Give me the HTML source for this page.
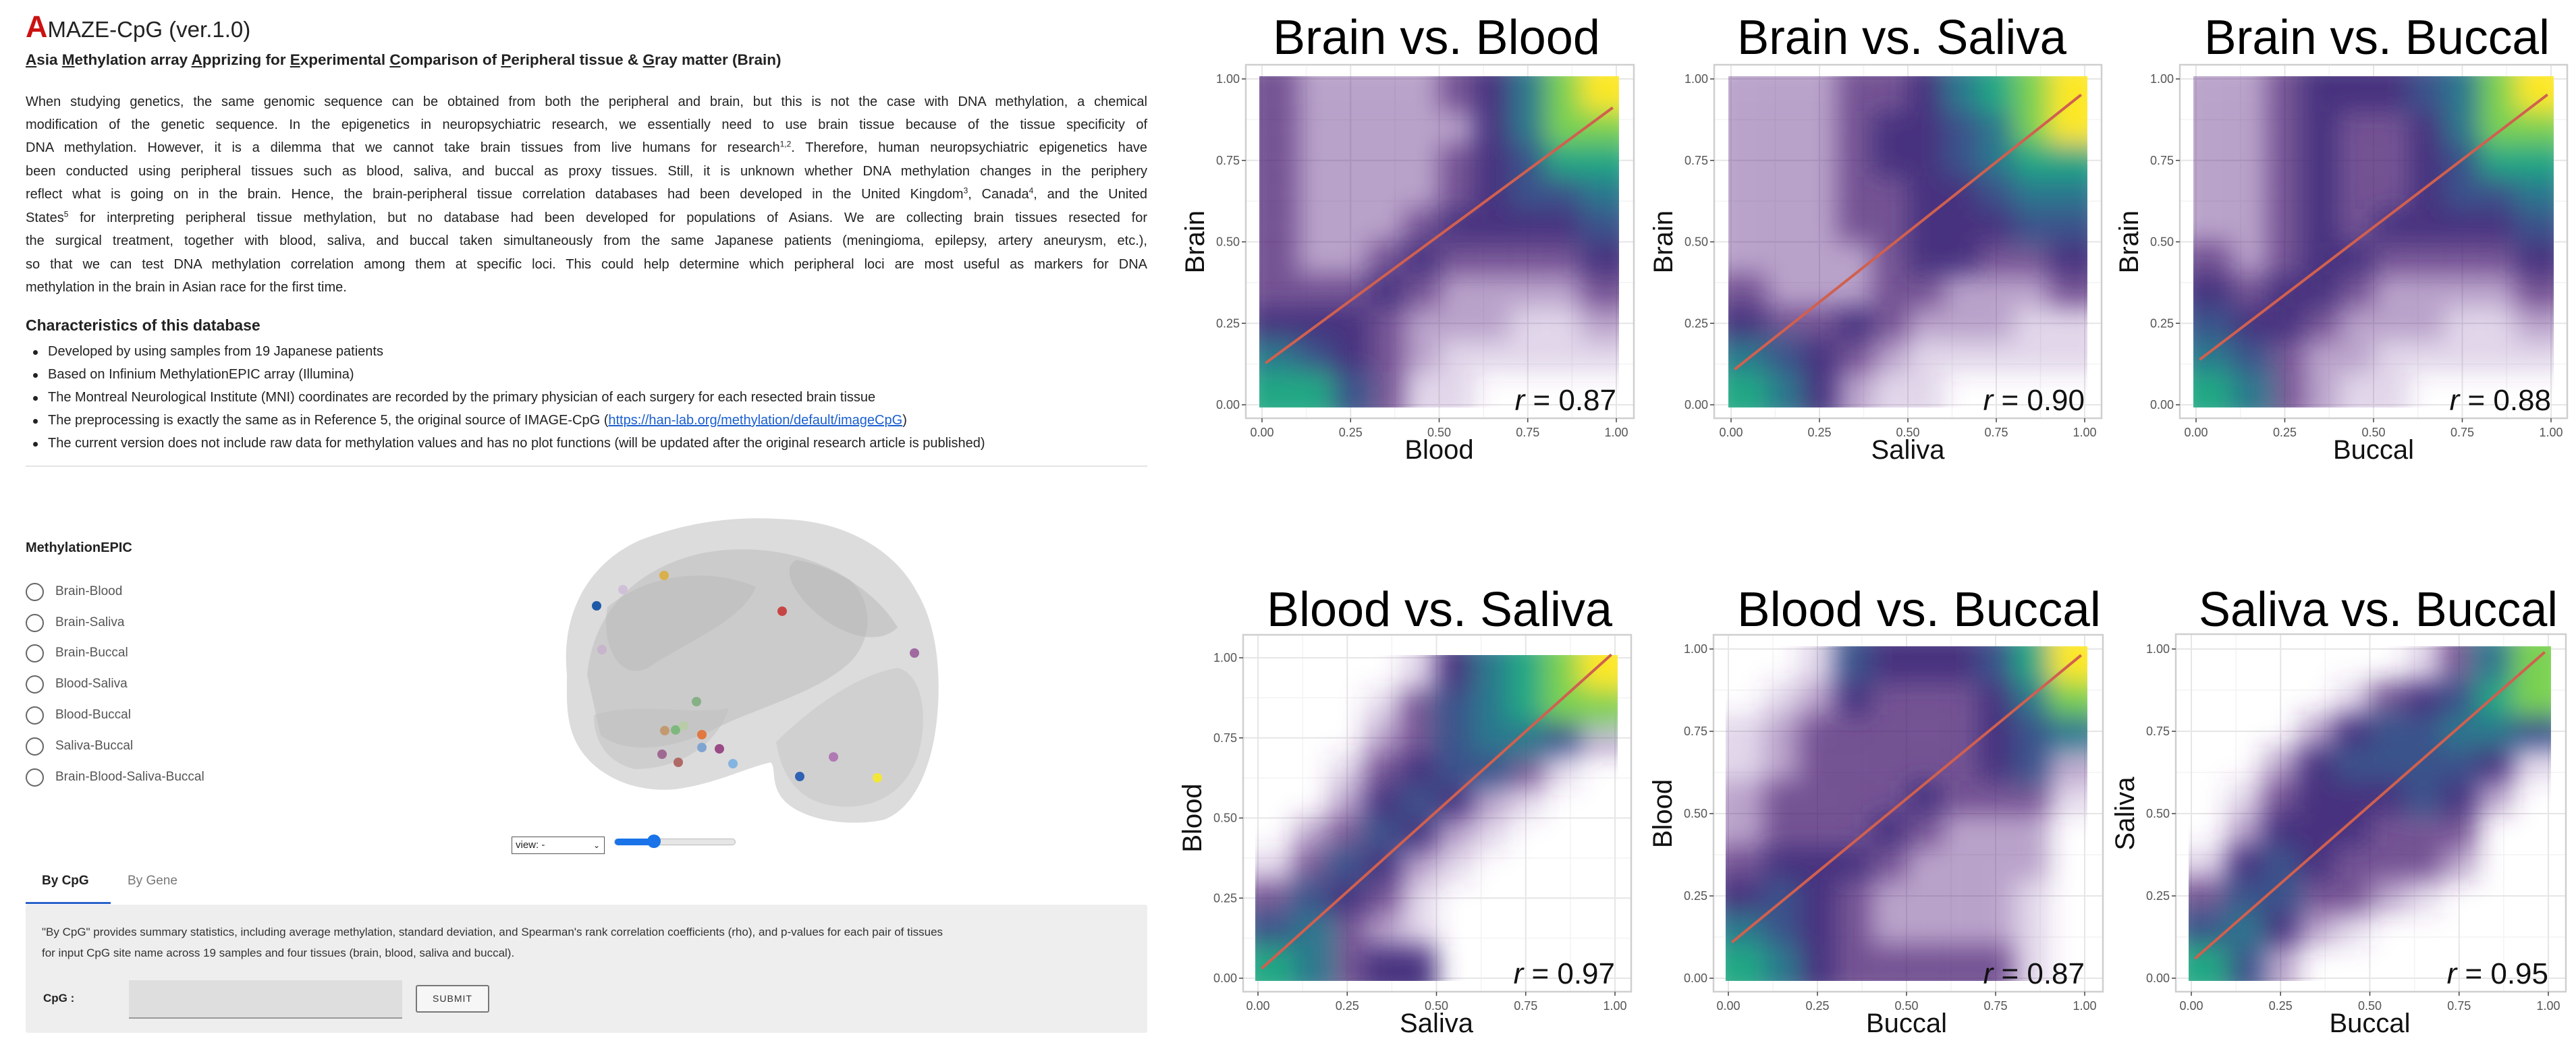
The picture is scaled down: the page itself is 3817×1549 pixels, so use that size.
<!DOCTYPE html>
<html><head><meta charset="utf-8"><title>AMAZE-CpG</title>
<style>
html,body{margin:0;padding:0;background:#fff;}
body{width:3817px;height:1549px;position:relative;overflow:hidden;font-family:"Liberation Sans",sans-serif;color:#222;}
.abs{position:absolute;}
.pline{position:absolute;left:38px;width:1662px;font-size:20px;text-align:justify;text-align-last:justify;white-space:nowrap;}
sup{font-size:12px;line-height:0;}
.bul{position:absolute;left:71px;font-size:20px;white-space:nowrap;}
.bul::before{content:"";position:absolute;left:-22px;top:9px;width:7px;height:7px;border-radius:50%;background:#222;}
.radio{position:absolute;left:38px;width:27px;height:27px;border:2px solid #666;border-radius:50%;box-sizing:border-box;}
.rlab{position:absolute;left:82px;font-size:19px;color:#555;}
</style></head>
<body>
<div class="abs" style="left:38px;top:14px;font-size:33px;white-space:nowrap;"><span style="color:#cc1111;font-size:45px;font-weight:bold;">A</span>MAZE-CpG (ver.1.0)</div>
<div class="abs" style="left:38px;top:76px;font-size:22.5px;font-weight:bold;white-space:nowrap;"><u>A</u>sia <u>M</u>ethylation array <u>A</u>pprizing for <u>E</u>xperimental <u>C</u>omparison of <u>P</u>eripheral tissue &amp; <u>G</u>ray matter (Brain)</div>

<div>
<div class="pline" style="top:140px">When studying genetics, the same genomic sequence can be obtained from both the peripheral and brain, but this is not the case with DNA methylation, a chemical</div>
<div class="pline" style="top:174px">modification of the genetic sequence. In the epigenetics in neuropsychiatric research, we essentially need to use brain tissue because of the tissue specificity of</div>
<div class="pline" style="top:208px">DNA methylation. However, it is a dilemma that we cannot take brain tissues from live humans for research<sup>1,2</sup>. Therefore, human neuropsychiatric epigenetics have</div>
<div class="pline" style="top:243px">been conducted using peripheral tissues such as blood, saliva, and buccal as proxy tissues. Still, it is unknown whether DNA methylation changes in the periphery</div>
<div class="pline" style="top:277px">reflect what is going on in the brain. Hence, the brain-peripheral tissue correlation databases had been developed in the United Kingdom<sup>3</sup>, Canada<sup>4</sup>, and the United</div>
<div class="pline" style="top:312px">States<sup>5</sup> for interpreting peripheral tissue methylation, but no database had been developed for populations of Asians. We are collecting brain tissues resected for</div>
<div class="pline" style="top:346px">the surgical treatment, together with blood, saliva, and buccal taken simultaneously from the same Japanese patients (meningioma, epilepsy, artery aneurysm, etc.),</div>
<div class="pline" style="top:381px">so that we can test DNA methylation correlation among them at specific loci. This could help determine which peripheral loci are most useful as markers for DNA</div>
<div class="pline" style="top:415px;text-align-last:left;">methylation in the brain in Asian race for the first time.</div>
</div>

<div class="abs" style="left:38px;top:469px;font-size:23px;font-weight:bold;">Characteristics of this database</div>
<div>
<div class="bul" style="top:510px">Developed by using samples from 19 Japanese patients</div>
<div class="bul" style="top:544px">Based on Infinium MethylationEPIC array (Illumina)</div>
<div class="bul" style="top:578px">The Montreal Neurological Institute (MNI) coordinates are recorded by the primary physician of each surgery for each resected brain tissue</div>
<div class="bul" style="top:612px">The preprocessing is exactly the same as in Reference 5, the original source of IMAGE-CpG (<a style="color:#1a5fd0;text-decoration:underline;">https://han-lab.org/methylation/default/imageCpG</a>)</div>
<div class="bul" style="top:646px">The current version does not include raw data for methylation values and has no plot functions (will be updated after the original research article is published)</div>
</div>
<div class="abs" style="left:38px;top:690px;width:1662px;height:2px;background:#e4e4e4;"></div>

<div class="abs" style="left:38px;top:801px;font-size:20px;font-weight:bold;">MethylationEPIC</div>
<div>
<div class="radio" style="top:864px"></div><div class="rlab" style="top:866px">Brain-Blood</div>
<div class="radio" style="top:910px"></div><div class="rlab" style="top:912px">Brain-Saliva</div>
<div class="radio" style="top:955px"></div><div class="rlab" style="top:957px">Brain-Buccal</div>
<div class="radio" style="top:1001px"></div><div class="rlab" style="top:1003px">Blood-Saliva</div>
<div class="radio" style="top:1047px"></div><div class="rlab" style="top:1049px">Blood-Buccal</div>
<div class="radio" style="top:1093px"></div><div class="rlab" style="top:1095px">Saliva-Buccal</div>
<div class="radio" style="top:1139px"></div><div class="rlab" style="top:1141px">Brain-Blood-Saliva-Buccal</div>
</div>

<svg class="abs" style="left:0;top:0" width="1700" height="1549" viewBox="0 0 1700 1549">
<g>
<path d="M840,1000 C830,900 880,830 950,800 C1030,770 1100,765 1170,770 C1260,775 1330,820 1360,880 C1395,940 1395,1030 1385,1090 C1375,1150 1350,1200 1310,1215 C1250,1228 1180,1212 1158,1182 C1142,1160 1150,1138 1142,1130 C1100,1140 1060,1162 1000,1170 C930,1176 870,1142 850,1092 C838,1062 840,1030 840,1000 Z" fill="#dcdcdc"/>
<path d="M870,1000 C880,900 950,840 1040,820 C1120,805 1200,820 1260,860 C1300,900 1290,960 1250,990 C1200,1030 1120,1050 1060,1080 C1000,1110 930,1120 890,1090 Z" fill="#bdbdbd" opacity="0.55"/>
<path d="M1150,1100 C1200,1050 1270,1000 1330,990 C1370,1000 1375,1070 1360,1120 C1340,1180 1290,1200 1240,1195 C1190,1190 1160,1160 1150,1100 Z" fill="#c4c4c4" opacity="0.5"/>
<path d="M900,900 C960,850 1050,840 1120,870 C1100,920 1020,950 960,990 C920,1010 890,960 900,900 Z" fill="#b8b8b8" opacity="0.45"/>
<path d="M1180,830 C1240,840 1300,880 1330,930 C1300,960 1240,940 1200,900 C1170,870 1160,840 1180,830 Z" fill="#b5b5b5" opacity="0.5"/>
<path d="M880,1060 C940,1040 1020,1060 1080,1050 C1060,1110 1000,1140 940,1140 C900,1130 880,1100 880,1060 Z" fill="#c0c0c0" opacity="0.5"/>
</g>
<g>
<circle cx="984" cy="853" r="7" fill="#d9b04c"/><circle cx="923" cy="874" r="7" fill="#cfc0d8"/>
<circle cx="884" cy="898" r="7" fill="#1f5aa8"/><circle cx="1159" cy="906" r="7" fill="#c84545"/>
<circle cx="892" cy="963" r="7" fill="#c8b4cc"/><circle cx="1355" cy="968" r="7" fill="#a06aa0"/>
<circle cx="1032" cy="1040" r="7" fill="#86b086"/><circle cx="985" cy="1083" r="7" fill="#c39a70"/>
<circle cx="1001" cy="1082" r="7" fill="#7fb87f"/><circle cx="1013" cy="1076" r="7" fill="#b8cca8"/>
<circle cx="1040" cy="1089" r="7" fill="#e07840"/><circle cx="1040" cy="1108" r="7" fill="#80a4d0"/>
<circle cx="1066" cy="1110" r="7" fill="#9a4a86"/><circle cx="981" cy="1118" r="7" fill="#9e6a92"/>
<circle cx="1005" cy="1130" r="7" fill="#b06a66"/><circle cx="1086" cy="1132" r="7" fill="#84b4e0"/>
<circle cx="1235" cy="1122" r="7" fill="#b07ab4"/><circle cx="1185" cy="1151" r="7" fill="#2f62b4"/>
<circle cx="1300" cy="1153" r="7" fill="#f2e63a"/>
</g>
</svg>

<div class="abs" style="left:758px;top:1240px;width:138px;height:26px;border:1px solid #555;box-sizing:border-box;font-size:15px;line-height:24px;padding-left:5px;background:#fff;">view: -<span style="position:absolute;right:6px;top:0;font-size:12px;">&#8964;</span></div>
<div class="abs" style="left:910px;top:1243px;width:180px;height:10px;border-radius:5px;background:#e6e6e6;border:1px solid #bbb;box-sizing:border-box;">
<div style="position:absolute;left:0;top:-1px;width:58px;height:10px;border-radius:5px;background:#1a73e8;"></div>
<div style="position:absolute;left:48px;top:-7px;width:20px;height:20px;border-radius:50%;background:#1a73e8;"></div>
</div>

<div class="abs" style="left:62px;top:1295px;font-size:19px;font-weight:bold;color:#222;">By CpG</div>
<div class="abs" style="left:189px;top:1295px;font-size:19px;color:#777;">By Gene</div>
<div class="abs" style="left:38px;top:1337px;width:126px;height:3px;background:#2a62c9;"></div>
<div class="abs" style="left:38px;top:1341px;width:1662px;height:190px;background:#eeeeee;border-radius:3px;"></div>
<div class="abs" style="left:62px;top:1366px;font-size:17px;line-height:31px;color:#333;width:1620px;">"By CpG" provides summary statistics, including average methylation, standard deviation, and Spearman's rank correlation coefficients (rho), and p-values for each pair of tissues<br>for input CpG site name across 19 samples and four tissues (brain, blood, saliva and buccal).</div>
<div class="abs" style="left:64px;top:1470px;font-size:17px;font-weight:bold;">CpG :</div>
<div class="abs" style="left:191px;top:1453px;width:405px;height:57px;background:#dedede;border-bottom:2px solid #999;box-sizing:border-box;"></div>
<div class="abs" style="left:616px;top:1460px;width:109px;height:41px;border:2px solid #777;border-radius:3px;box-sizing:border-box;background:#f6f6f6;font-size:14px;letter-spacing:1px;text-align:center;line-height:37px;color:#333;">SUBMIT</div>

<svg id="charts" class="abs" style="left:0;top:0" width="3817" height="1549" viewBox="0 0 3817 1549"></svg>

<script>
const titles = ["Brain vs. Blood","Brain vs. Saliva","Brain vs. Buccal","Blood vs. Saliva","Blood vs. Buccal","Saliva vs. Buccal"];
const xLabels = ["Blood","Saliva","Buccal","Saliva","Buccal","Buccal"];
const yLabels = ["Brain","Brain","Brain","Blood","Blood","Saliva"];
const rValues = [0.87,0.90,0.88,0.97,0.87,0.95];
const intercepts = [0.12,0.10,0.13,0.02,0.10,0.05];
const slopes = [0.80,0.86,0.83,1.00,0.89,0.95];
const tickValues = [0,0.25,0.5,0.75,1];
const tickLabels = ["0.00","0.25","0.50","0.75","1.00"];
// density levels, rows from y=1 (top) to y=0, columns x=0..1
const density1 = [
[3,2,2,2,2,3,4,6,8,9],[3,2,2,2,2,2,4,6,8,8],[3,2,2,2,2,3,4,5,7,7],[3,2,2,2,2,3,4,5,5,6],[3,2,2,2,3,4,4,4,4,5],
[3,2,2,3,4,3,3,3,3,4],[3,3,3,4,3,2,2,2,2,3],[4,4,4,3,2,2,2,1,1,2],[6,5,4,3,2,1,1,1,1,1],[7,7,5,3,1,1,0,0,0,0]];
const density2 = [
[2,2,2,3,3,4,6,7,8,9],[2,2,2,3,4,4,5,6,8,9],[2,2,2,3,4,4,5,6,7,7],[2,2,2,3,3,4,4,5,6,6],[2,2,2,3,3,4,4,4,5,5],
[2,2,2,2,3,4,4,3,3,4],[3,2,2,2,3,3,2,2,2,3],[4,3,3,4,3,2,2,2,1,1],[6,5,4,3,2,1,1,1,1,1],[7,6,4,2,1,1,0,0,0,0]];
const density3 = [
[2,2,3,4,4,4,5,6,8,9],[2,2,3,4,3,3,4,6,8,8],[2,2,3,4,3,3,4,5,7,7],[2,2,3,4,3,3,4,5,5,6],[2,2,3,4,3,4,4,4,4,5],
[3,2,3,4,4,3,3,3,3,4],[4,3,4,4,3,2,2,2,2,3],[5,4,4,3,2,2,2,1,1,2],[6,5,3,2,2,1,1,1,1,1],[7,6,3,2,1,1,0,0,0,0]];
const density4 = [
[0,0,0,0,1,4,6,7,8,9],[0,0,0,1,3,5,6,7,8,8],[0,0,0,2,3,5,6,6,5,2],[0,0,1,3,4,5,5,3,1,0],[0,0,2,4,5,4,2,1,0,0],
[0,2,3,5,4,2,1,0,0,0],[1,3,5,4,2,1,0,0,0,0],[3,5,4,3,1,0,0,0,0,0],[5,6,3,2,1,0,0,0,0,0],[7,6,3,4,4,0,0,0,0,0]];
const density5 = [
[0,0,1,5,4,4,4,5,7,9],[0,1,2,4,3,3,3,4,6,8],[1,2,3,3,3,3,3,4,5,6],[1,2,3,3,3,3,3,4,5,2],[2,3,3,3,3,4,3,3,3,1],
[2,3,3,3,4,3,2,2,2,0],[3,4,4,4,3,2,2,2,2,0],[4,5,4,3,2,2,2,2,1,0],[6,5,4,3,2,2,2,2,1,0],[7,6,4,3,3,3,3,3,1,0]];
const density6 = [
[0,0,0,0,0,0,1,3,6,8],[0,0,0,0,1,3,4,5,7,8],[0,0,0,2,4,5,5,6,6,5],[0,0,2,4,5,5,5,5,4,1],[0,1,3,4,4,4,5,4,2,0],
[0,2,4,4,4,3,3,3,0,0],[1,4,5,4,3,3,3,2,0,0],[3,5,5,3,3,2,1,0,0,0],[5,6,4,2,1,0,0,0,0,0],[7,5,2,0,0,0,0,0,0,0]];
const densities = [density1,density2,density3,density4,density5,density6];

// layout (pixel geometry, not data)
const layout = [
 {bx:1846,by:96,bw:575,bh:524,x0:1870,x1:2395,y0:600,y1:117,t0:1886,t1:2371,tb:80},
 {bx:2540,by:96,bw:574,bh:524,x0:2565,x1:3089,y0:600,y1:117,t0:2574,t1:3062,tb:80},
 {bx:3230,by:96,bw:574,bh:524,x0:3254,x1:3780,y0:600,y1:117,t0:3266,t1:3778,tb:80},
 {bx:1842,by:941,bw:575,bh:529,x0:1864,x1:2393,y0:1450,y1:975,t0:1877,t1:2389,tb:928},
 {bx:2539,by:941,bw:577,bh:529,x0:2561,x1:3089,y0:1450,y1:962,t0:2574,t1:3113,tb:928},
 {bx:3224,by:940,bw:578,bh:530,x0:3247,x1:3776,y0:1450,y1:962,t0:3258,t1:3790,tb:928}
];
const levelColors = ["none","rgba(110,60,150,0.2)","rgba(90,40,130,0.42)","rgba(72,28,112,0.75)","#46337f","#3b528b","#2a788e","#22a884","#7ad151","#fde725"];

const NS = "http://www.w3.org/2000/svg";
const svg = document.getElementById("charts");
function mk(tag, attrs, parent){const e=document.createElementNS(NS,tag);for(const k in attrs)e.setAttribute(k,attrs[k]);(parent||svg).appendChild(e);return e;}

const defs = mk("defs",{});
const filt = mk("filter",{id:"soft",x:"-10%",y:"-10%",width:"120%",height:"120%"},defs);
mk("feGaussianBlur",{stdDeviation:"19"},filt);

layout.forEach((p,k)=>{
  const sx=v=>p.x0+v*(p.x1-p.x0);
  const sy=v=>p.y0-v*(p.y0-p.y1);
  const g=mk("g",{});
  
  
  const cp=mk("clipPath",{id:"clip"+k},defs);
  mk("rect",{x:p.bx+1,y:p.by+1,width:p.bw-2,height:p.bh-2},cp);
  const cpd=mk("clipPath",{id:"clipd"+k},defs);
  mk("rect",{x:p.x0-4,y:p.y1-4,width:p.x1-p.x0+8,height:p.y0-p.y1+8},cpd);
  const bg=mk("rect",{x:p.bx,y:p.by,width:p.bw,height:p.bh,fill:"#fff"},g);
  
  
  for(let i=0;i<4;i++){const v=0.125+i*0.25;
    mk("line",{x1:sx(v),x2:sx(v),y1:p.by,y2:p.by+p.bh,stroke:"#f3f3f3","stroke-width":1.5},g);
    mk("line",{y1:sy(v),y2:sy(v),x1:p.bx,x2:p.bx+p.bw,stroke:"#f3f3f3","stroke-width":1.5},g);}
  tickValues.forEach(v=>{
    mk("line",{x1:sx(v),x2:sx(v),y1:p.by,y2:p.by+p.bh,stroke:"#e6e6e6","stroke-width":2},g);
    mk("line",{y1:sy(v),y2:sy(v),x1:p.bx,x2:p.bx+p.bw,stroke:"#e6e6e6","stroke-width":2},g);});
  const dg=mk("g",{"clip-path":"url(#clipd"+k+")"},g);
  const inner=mk("g",{filter:"url(#soft)"},dg);
  
  
  const ext=30;
  densities[k].forEach((row,j)=>{row.forEach((lv,i)=>{
    if(!lv)return;
    let xa=sx(i/10),xb=sx((i+1)/10),ya=sy(1-j/10),yb=sy(1-(j+1)/10);
    if(i===0)xa-=ext; if(i===9)xb+=ext; if(j===0)ya-=ext; if(j===9)yb+=ext;
    const c=mk("rect",{x:xa,y:ya,width:xb-xa+0.5,height:yb-ya+0.5,fill:levelColors[lv]},inner);
    
    
  });});
  const ln=mk("line",{x1:sx(0.01),y1:sy(intercepts[k]+slopes[k]*0.01),x2:sx(0.99),y2:sy(intercepts[k]+slopes[k]*0.99),stroke:"#d0604f","stroke-width":4,"clip-path":"url(#clip"+k+")"},g);
  
  
  const bd=mk("rect",{x:p.bx,y:p.by,width:p.bw,height:p.bh,fill:"none",stroke:"#cfcfcf","stroke-width":2.5},g);
  
  
  tickValues.forEach((v,i)=>{
    mk("line",{x1:sx(v),x2:sx(v),y1:p.by+p.bh,y2:p.by+p.bh+6,stroke:"#444","stroke-width":1.5},g);
    mk("line",{x1:p.bx-6,x2:p.bx,y1:sy(v),y2:sy(v),stroke:"#444","stroke-width":1.5},g);
    const tx=mk("text",{x:sx(v),y:p.by+p.bh+27,"text-anchor":"middle","font-size":18,fill:"#555","font-family":"Liberation Sans, sans-serif"},g);
    tx.textContent=tickLabels[i];
    
    
    const ty=mk("text",{x:p.bx-9,y:sy(v)+6,"text-anchor":"end","font-size":18,fill:"#555","font-family":"Liberation Sans, sans-serif"},g);
    ty.textContent=tickLabels[i];
    
    
  });
  const t=mk("text",{x:p.t0,y:p.tb,"font-size":72,textLength:p.t1-p.t0,lengthAdjust:"spacingAndGlyphs",fill:"#000","font-family":"Liberation Sans, sans-serif"},g);
  t.textContent=titles[k];
  
  
  const xl=mk("text",{x:(p.x0+p.x1)/2,y:p.by+p.bh+60,"text-anchor":"middle","font-size":40,fill:"#111","font-family":"Liberation Sans, sans-serif"},g);
  xl.textContent=xLabels[k];
  
  
  const cy=(p.y0+p.y1)/2, cx=p.bx-62;
  const yl=mk("text",{x:cx,y:cy,"text-anchor":"middle","font-size":40,fill:"#111","font-family":"Liberation Sans, sans-serif",transform:"rotate(-90 "+cx+" "+cy+")"},g);
  yl.textContent=yLabels[k];
  
  
  const rt=mk("text",{x:p.x1,y:p.y0+8,"text-anchor":"end","font-size":44,fill:"#111","font-family":"Liberation Sans, sans-serif"},g);
  const ri=mk("tspan",{"font-style":"italic"},rt); ri.textContent="r";
  const rv=mk("tspan",{},rt); rv.textContent=" = "+rValues[k].toFixed(2);
  
  
});
</script>
</body></html>
